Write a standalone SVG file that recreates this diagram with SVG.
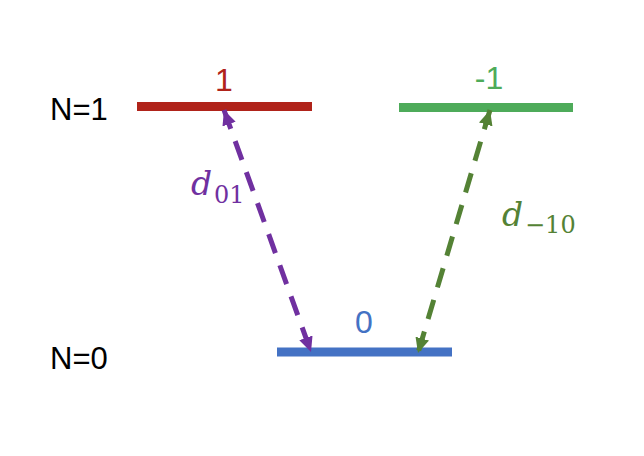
<svg xmlns="http://www.w3.org/2000/svg" width="644" height="456" viewBox="0 0 644 456">
<style>
.lvl{stroke-width:9;fill:none}
.lab{font-family:"Liberation Sans",Arial,sans-serif;text-anchor:middle;font-size:32px}
.nlab{font-family:"Liberation Sans",Arial,sans-serif;font-size:31px;fill:#000}
.arr{stroke-width:5;fill:none;stroke-dasharray:20 13}
.dm{font-family:"DejaVu Serif","Liberation Serif",serif;font-style:italic;font-size:33px}
.sub{font-family:"DejaVu Serif","Liberation Serif",serif;font-size:24px}
</style>
<defs>
<marker id="mp" markerUnits="userSpaceOnUse" markerWidth="16" markerHeight="16" viewBox="0 0 16 16" refX="15" refY="8" orient="auto-start-reverse">
<path d="M0,1 L15,8 L0,15 Z" fill="#7030A0"/>
</marker>
<marker id="mg" markerUnits="userSpaceOnUse" markerWidth="16" markerHeight="16" viewBox="0 0 16 16" refX="15" refY="8" orient="auto-start-reverse">
<path d="M0,1 L15,8 L0,15 Z" fill="#548235"/>
</marker>
</defs>
<rect width="644" height="456" fill="#fff"/>
<g id="level1">
<line class="lvl" x1="137" y1="106.5" x2="312" y2="106.5" stroke="#B0231A"/>
<text class="lab" x="224" y="91" fill="#B0231A">1</text>
</g>
<g id="levelm1">
<line class="lvl" x1="399" y1="107.5" x2="573" y2="107.5" stroke="#4EAB5A"/>
<text class="lab" x="489" y="89" fill="#4EAB5A">-1</text>
</g>
<g id="level0">
<line class="lvl" x1="277" y1="352" x2="452" y2="352" stroke="#4472C4"/>
<text class="lab" x="364" y="333" fill="#4472C4">0</text>
</g>
<g id="labelN1"><text class="nlab" x="50" y="120">N=1</text></g>
<g id="labelN0"><text class="nlab" x="50" y="369">N=0</text></g>
<g id="connectors">
<line class="arr" x1="224" y1="110" x2="311" y2="352" stroke="#7030A0" marker-start="url(#mp)" marker-end="url(#mp)"/>
<line class="arr" x1="490" y1="110" x2="418" y2="353" stroke="#548235" marker-start="url(#mg)" marker-end="url(#mg)"/>
</g>
<g id="label_d01" fill="#7030A0">
<text class="dm" x="191" y="195">d</text>
<text class="sub" x="214" y="203">01</text>
</g>
<g id="label_dm10" fill="#548235">
<text class="dm" x="502" y="226">d</text>
<text class="sub" x="525" y="233">−10</text>
</g>
</svg>
